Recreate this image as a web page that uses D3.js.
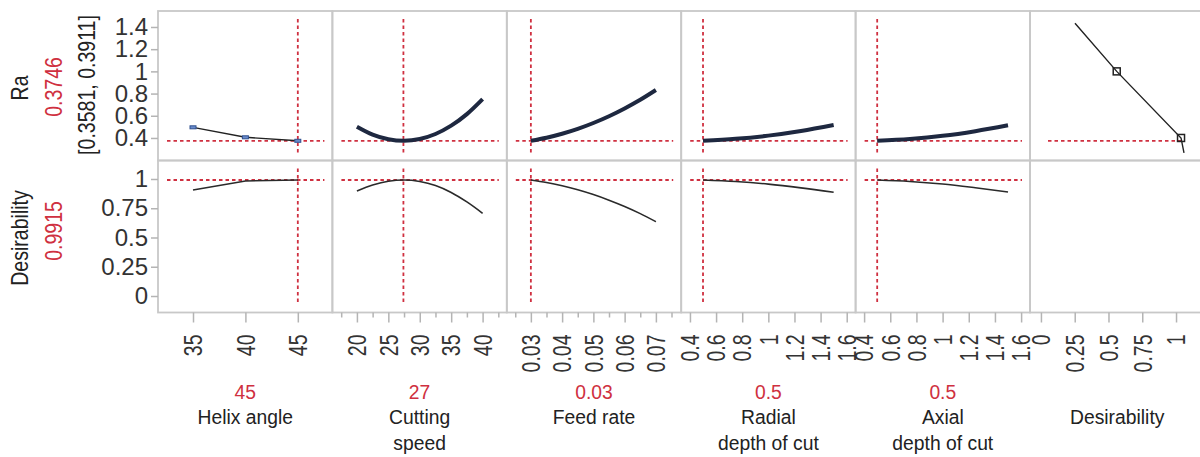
<!DOCTYPE html>
<html>
<head>
<meta charset="utf-8">
<script src="https://cdn.jsdelivr.net/npm/d3@7"></script>
<style>
  html, body { margin: 0; padding: 0; background: #fff; }
  svg { display: block; font-family: "Liberation Sans", Arial, sans-serif; }
</style>
</head>
<body>
<svg id="chart" width="1200" height="457"></svg>
<script>
const factorTitles = [["Helix angle"], ["Cutting", "speed"], ["Feed rate"], ["Radial", "depth of cut"], ["Axial", "depth of cut"], ["Desirability"]];
const currentValues = [45, 27.4, 0.03, 0.5, 0.5];
const currentLabels = ["45", "27", "0.03", "0.5", "0.5"];
const axisDomains = [[31.66, 48.3], [16.1, 43.85], [0.0223, 0.0781], [0.333, 1.668], [0.335, 1.668], [-0.081, 1.21]];
const xTicks = [
  [35, 40, 45],
  [20, 25, 30, 35, 40],
  [0.03, 0.04, 0.05, 0.06, 0.07],
  [0.4, 0.6, 0.8, 1, 1.2, 1.4, 1.6],
  [0.4, 0.6, 0.8, 1, 1.2, 1.4, 1.6],
  [0, 0.25, 0.5, 0.75, 1]
];
const xMinorTicks = [[], [17.5, 22.5, 27.5, 32.5, 37.5, 42.5], [0.025, 0.035, 0.045, 0.055, 0.065, 0.075], [], [], []];

const raTicks = [0.4, 0.6, 0.8, 1, 1.2, 1.4];
const desTicks = [0, 0.25, 0.5, 0.75, 1];
const raDomain = [0.197, 1.544];
const desDomain = [-0.141, 1.158];
const raCurrent = 0.3746;
const raInterval = "[0.3581, 0.3911]";
const desCurrent = 0.9915;

const helixX = [35, 40, 45];
const helixRa = [0.496, 0.406, 0.3746];
const helixDes = [0.906, 0.983, 0.9915];

const speedX = [20, 22.5, 25, 27.5, 30, 32.5, 35, 37.5, 40];
const speedRa = [0.502, 0.431, 0.389, 0.375, 0.391, 0.436, 0.511, 0.615, 0.75];
const speedDes = [0.897, 0.948, 0.981, 0.9915, 0.979, 0.944, 0.885, 0.804, 0.707];

const feedX = [0.03, 0.035, 0.04, 0.045, 0.05, 0.055, 0.06, 0.065, 0.07];
const feedRa = [0.3746, 0.402, 0.438, 0.482, 0.535, 0.596, 0.666, 0.744, 0.832];
const feedDes = [0.9915, 0.970, 0.942, 0.908, 0.867, 0.819, 0.765, 0.704, 0.635];

const radialX = [0.5, 0.75, 1, 1.25, 1.5];
const radialRa = [0.3746, 0.392, 0.421, 0.463, 0.517];
const radialDes = [0.9915, 0.978, 0.956, 0.924, 0.886];

const axialX = [0.5, 0.75, 1, 1.25, 1.5];
const axialRa = [0.3746, 0.391, 0.419, 0.461, 0.514];
const axialDes = [0.9915, 0.979, 0.957, 0.925, 0.889];

// desirability function (desirability on x, Ra on y)
const desFnD = [0.252, 0.561, 1.037, 1.059];
const desFnRa = [1.433, 1.0, 0.4, 0.265];
const desFnHandles = [1, 2];

// ---- layout ----
const RED = "#cf3040";
const left = 158, panelW = 174.4;
const rows = [{ top: 11, bottom: 160.5 }, { top: 160.5, bottom: 312.5 }];

const svg = d3.select("#chart");
const fmt = d => String(+d.toFixed(4));

const yRa = d3.scaleLinear().domain(raDomain).range([rows[0].bottom, rows[0].top]);
const yDes = d3.scaleLinear().domain(desDomain).range([rows[1].bottom, rows[1].top]);
const xs = axisDomains.map((dom, i) =>
  d3.scaleLinear().domain(dom).range([left + i * panelW, left + (i + 1) * panelW]));

// panel frames
const frames = svg.append("g");
xs.forEach(x => {
  rows.forEach(r => {
    frames.append("rect")
      .attr("x", x.range()[0]).attr("y", r.top)
      .attr("width", panelW).attr("height", r.bottom - r.top)
      .attr("fill", "none").attr("stroke", "#c8c8c8").attr("stroke-width", 1.8);
  });
});

// red reference lines
const refs = svg.append("g")
  .attr("stroke", RED).attr("stroke-width", 1.8).attr("stroke-dasharray", "3.5,3");
currentValues.forEach((v, i) => {
  const x = xs[i];
  const [x0, x1] = x.range();
  rows.forEach(r => {
    refs.append("line").attr("x1", x(v)).attr("x2", x(v))
      .attr("y1", r.top + 8).attr("y2", r.bottom - 8);
  });
  refs.append("line").attr("x1", x0 + 9).attr("x2", x1 - 8)
    .attr("y1", yRa(raCurrent)).attr("y2", yRa(raCurrent));
  refs.append("line").attr("x1", x0 + 9).attr("x2", x1 - 8)
    .attr("y1", yDes(desCurrent)).attr("y2", yDes(desCurrent));
});
refs.append("line")
  .attr("x1", xs[5].range()[0] + 18).attr("x2", xs[5](desFnD[desFnHandles[1]]))
  .attr("y1", yRa(raCurrent)).attr("y2", yRa(raCurrent));

// profiles
const profiles = [
  { x: helixX, ra: helixRa, des: helixDes, curve: d3.curveLinear, thin: true },
  { x: speedX, ra: speedRa, des: speedDes, curve: d3.curveMonotoneX },
  { x: feedX, ra: feedRa, des: feedDes, curve: d3.curveMonotoneX },
  { x: radialX, ra: radialRa, des: radialDes, curve: d3.curveMonotoneX },
  { x: axialX, ra: axialRa, des: axialDes, curve: d3.curveMonotoneX }
];

const curves = svg.append("g").attr("fill", "none");
profiles.forEach((p, i) => {
  const x = xs[i];
  const raLine = d3.line().curve(p.curve).x((d, j) => x(p.x[j])).y(d => yRa(d));
  const desLine = d3.line().curve(p.curve).x((d, j) => x(p.x[j])).y(d => yDes(d));
  curves.append("path").attr("d", raLine(p.ra))
    .attr("stroke", p.thin ? "#222" : "#1e2840")
    .attr("stroke-width", p.thin ? 1.4 : 4);
  curves.append("path").attr("d", desLine(p.des))
    .attr("stroke", "#2a2a2a").attr("stroke-width", 1.6);
  if (p.thin) {
    curves.selectAll(null).data(p.ra).join("rect")
      .attr("x", (d, j) => x(p.x[j]) - 3).attr("y", d => yRa(d) - 1.5)
      .attr("width", 6).attr("height", 3)
      .attr("fill", "#6a8ccc").attr("stroke", "#30508f").attr("stroke-width", 1);
  }
});

// desirability function panel
const desFnLine = d3.line().x((d, j) => xs[5](desFnD[j])).y(d => yRa(d));
curves.append("path").attr("d", desFnLine(desFnRa))
  .attr("stroke", "#222").attr("stroke-width", 1.4);
curves.selectAll(null).data(desFnHandles).join("rect")
  .attr("x", j => xs[5](desFnD[j]) - 3.5).attr("y", j => yRa(desFnRa[j]) - 3.5)
  .attr("width", 7).attr("height", 7)
  .attr("fill", "none").attr("stroke", "#222").attr("stroke-width", 1.5);

// y axes
function styleAxis(g) {
  g.select(".domain").remove();
  g.selectAll(".tick line").attr("stroke", "#b4b4b4").attr("stroke-width", 1.5);
  g.selectAll(".tick text").attr("fill", "#333").style("font-family", '"Liberation Sans", Arial, sans-serif');
}
svg.append("g").attr("transform", `translate(${left},0)`)
  .call(d3.axisLeft(yRa).tickValues(raTicks).tickSize(7).tickPadding(3).tickFormat(fmt))
  .call(styleAxis)
  .selectAll("text").style("font-size", "24px");
svg.append("g").attr("transform", `translate(${left},0)`)
  .call(d3.axisLeft(yDes).tickValues(desTicks).tickSize(7).tickPadding(3).tickFormat(fmt))
  .call(styleAxis)
  .selectAll("text").style("font-size", "24px");

// x axes
const bottom = rows[1].bottom;
xs.forEach((x, i) => {
  svg.append("g").attr("transform", `translate(0,${bottom})`)
    .call(d3.axisBottom(x).tickValues(xMinorTicks[i]).tickSize(5).tickFormat(""))
    .call(styleAxis);
  const g = svg.append("g").attr("transform", `translate(0,${bottom})`)
    .call(d3.axisBottom(x).tickValues(xTicks[i]).tickSize(10).tickFormat(fmt))
    .call(styleAxis);
  g.selectAll(".tick text")
    .style("font-size", "25px")
    .attr("text-anchor", "end")
    .attr("x", -22 / 0.78).attr("y", 0).attr("dy", "0.35em")
    .attr("transform", "rotate(-90) scale(0.78,1)");
});

// factor titles
const titles = svg.append("g").attr("text-anchor", "middle").style("font-size", "21px");
factorTitles.forEach((lines, i) => {
  const cx = (xs[i].range()[0] + xs[i].range()[1]) / 2;
  if (i < currentLabels.length) {
    titles.append("text").attr("transform", `translate(${cx},399) scale(0.92,1)`)
      .attr("fill", RED).text(currentLabels[i]);
  }
  lines.forEach((t, k) => {
    titles.append("text").attr("transform", `translate(${cx},${424 + k * 26}) scale(0.92,1)`)
      .attr("fill", "#222").text(t);
  });
});

// response titles (rotated)
const yTitles = [
  { text: "Ra", x: 28, y: 88, color: "#222" },
  { text: d3.format(".4f")(raCurrent), x: 62, y: 87, color: RED },
  { text: raInterval, x: 95, y: 85, color: "#222" },
  { text: "Desirability", x: 27.5, y: 238, color: "#222" },
  { text: d3.format(".4f")(desCurrent), x: 62, y: 231, color: RED }
];
svg.append("g").attr("text-anchor", "middle").style("font-size", "23px")
  .selectAll("text").data(yTitles).join("text")
  .attr("transform", d => `translate(${d.x},${d.y}) rotate(-90) scale(0.85,1)`)
  .attr("fill", d => d.color)
  .text(d => d.text);
</script>
</body>
</html>
